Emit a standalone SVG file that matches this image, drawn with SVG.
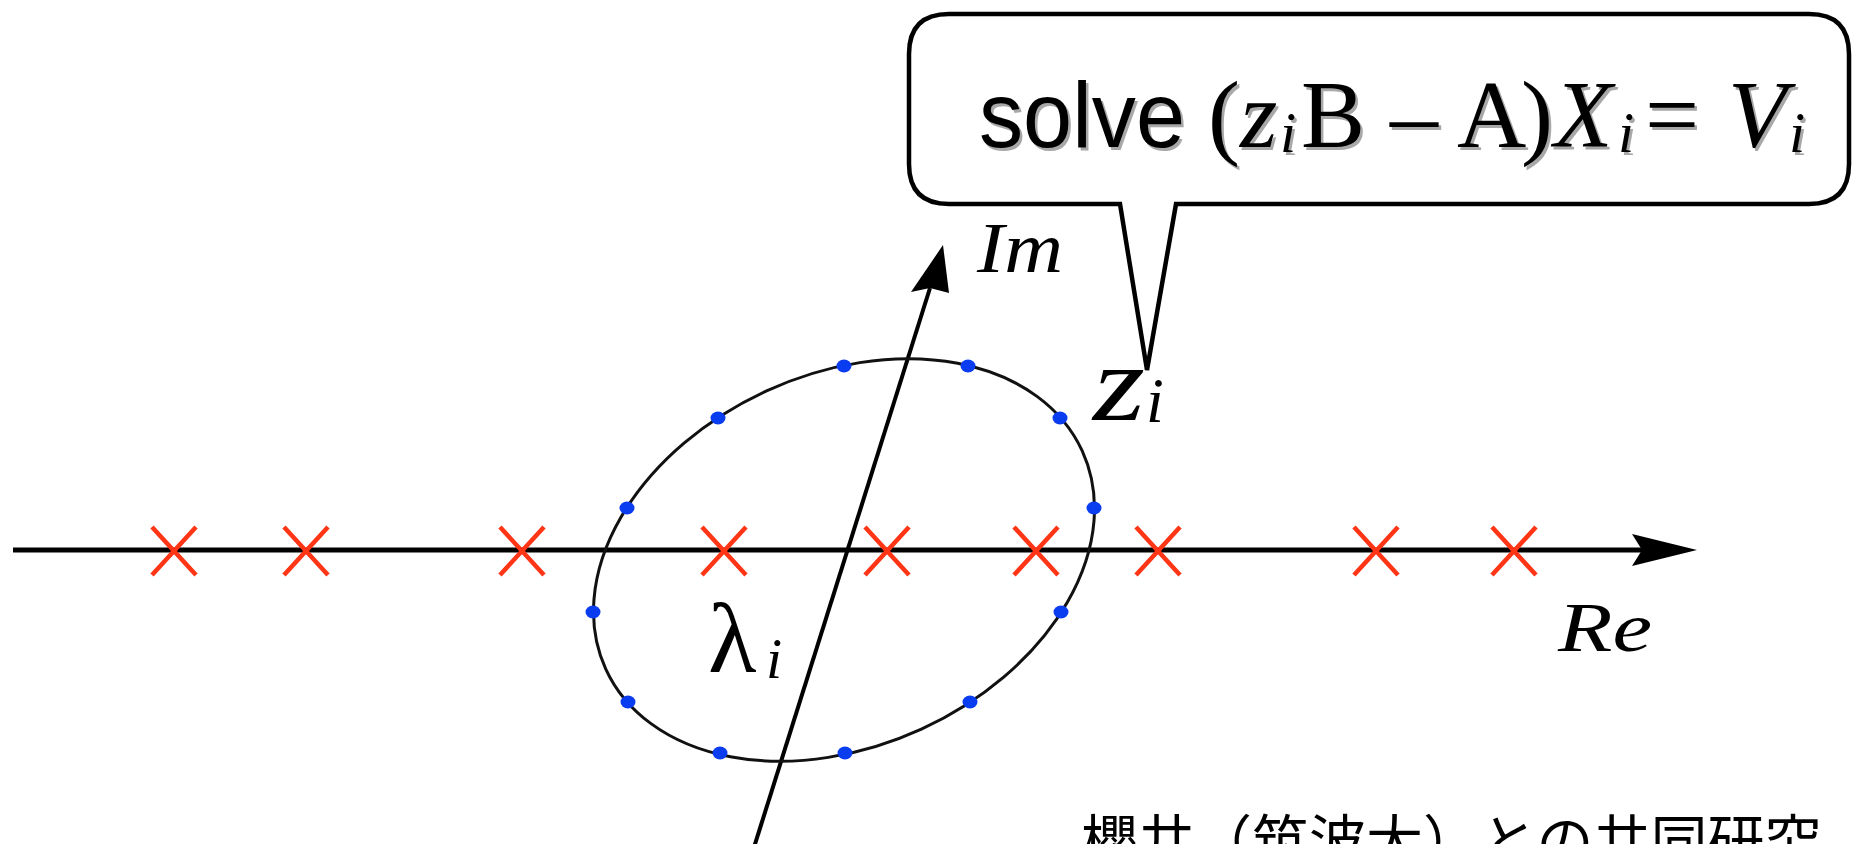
<svg xmlns="http://www.w3.org/2000/svg" xmlns:xlink="http://www.w3.org/1999/xlink" width="1853" height="844" viewBox="0 0 1853 844">
  <style>
    .axis { stroke: #000; fill: none; }
    .head { fill: #000; stroke: none; }
    .cross { stroke: #ff3516; stroke-width: 4.5; fill: none; }
    .dot { fill: #0a3cf0; }
    .serif { font-family: "Liberation Serif", "Times New Roman", serif; }
    .it { font-style: italic; }
    .sans { font-family: "Liberation Sans", Arial, sans-serif; }
    .jp { font-family: "Noto Sans CJK JP", "Noto Sans CJK SC", sans-serif; }
  </style>
  <defs>
    <g id="cross-shape">
      <path class="cross" d="M -22 -24 Q 0 0 22 24 M 22 -24 Q 0 0 -22 24"/>
    </g>
    <text id="formula-text" y="147">
      <tspan class="sans" x="979" font-size="92" textLength="206" lengthAdjust="spacingAndGlyphs">solve</tspan>
      <tspan class="serif" x="1208" font-size="96">(</tspan>
      <tspan class="serif it" x="1240" font-size="96">z</tspan>
      <tspan class="serif it" x="1280" y="152" font-size="58">i</tspan>
      <tspan class="serif" x="1301" y="147" font-size="96">B</tspan>
      <tspan class="serif" x="1390" font-size="96">–</tspan>
      <tspan class="serif" x="1457" font-size="96">A</tspan>
      <tspan class="serif" x="1521" font-size="96">)</tspan>
      <tspan class="serif it" x="1554" font-size="96">X</tspan>
      <tspan class="serif it" x="1618" y="152" font-size="58">i</tspan>
      <tspan class="serif" x="1645" y="147" font-size="96">=</tspan>
      <tspan class="serif it" x="1728" font-size="96">V</tspan>
      <tspan class="serif it" x="1789" y="152" font-size="58">i</tspan>
    </text>
  </defs>

  <rect x="0" y="0" width="1853" height="844" fill="#fff"/>

  <g id="connectors">
    <line id="re-axis" class="axis" x1="13" y1="550" x2="1642" y2="550" stroke-width="5"/>
    <path class="head" d="M 1697 550 L 1632 534 L 1642 550 L 1632 566 Z"/>
    <line id="im-axis" class="axis" x1="750" y1="860" x2="930" y2="288" stroke-width="4"/>
    <path class="head" d="M 943 245 L 949 293 L 930 288 L 911 292 Z"/>
  </g>

  <g id="contour">
    <ellipse cx="844" cy="560" rx="262" ry="186" transform="rotate(-24.6 844 560)" fill="none" stroke="#111" stroke-width="3"/>
  </g>

  <g id="eigenvalues">
    <use xlink:href="#cross-shape" x="174" y="551"/>
    <use xlink:href="#cross-shape" x="306" y="551"/>
    <use xlink:href="#cross-shape" x="522" y="551"/>
    <use xlink:href="#cross-shape" x="724" y="551"/>
    <use xlink:href="#cross-shape" x="887" y="551"/>
    <use xlink:href="#cross-shape" x="1036" y="551"/>
    <use xlink:href="#cross-shape" x="1158" y="551"/>
    <use xlink:href="#cross-shape" x="1376" y="551"/>
    <use xlink:href="#cross-shape" x="1514" y="551"/>
  </g>

  <g id="quadrature-points">
    <ellipse class="dot" cx="1094" cy="508" rx="7.5" ry="6.5"/>
    <ellipse class="dot" cx="1061" cy="612" rx="7.5" ry="6.5"/>
    <ellipse class="dot" cx="970" cy="702" rx="7.5" ry="6.5"/>
    <ellipse class="dot" cx="845" cy="753" rx="7.5" ry="6.5"/>
    <ellipse class="dot" cx="720" cy="753" rx="7.5" ry="6.5"/>
    <ellipse class="dot" cx="628" cy="702" rx="7.5" ry="6.5"/>
    <ellipse class="dot" cx="593" cy="612" rx="7.5" ry="6.5"/>
    <ellipse class="dot" cx="627" cy="508" rx="7.5" ry="6.5"/>
    <ellipse class="dot" cx="718" cy="418" rx="7.5" ry="6.5"/>
    <ellipse class="dot" cx="844" cy="366" rx="7.5" ry="6.5"/>
    <ellipse class="dot" cx="968" cy="366" rx="7.5" ry="6.5"/>
    <ellipse class="dot" cx="1060" cy="418" rx="7.5" ry="6.5"/>
  </g>

  <g id="labels" fill="#000">
    <text id="label-im" class="serif it" x="977" y="272" font-size="72" textLength="86" lengthAdjust="spacingAndGlyphs">Im</text>
    <text id="label-re" class="serif it" x="1558" y="651" font-size="70" textLength="94" lengthAdjust="spacingAndGlyphs">Re</text>
    <text id="label-lambda" class="serif" x="708" y="672" font-size="100">λ<tspan class="it" x="766" y="678" font-size="58">i</tspan></text>
    <text id="label-zi" class="serif it" x="1093" y="420" font-size="108"><tspan textLength="52" lengthAdjust="spacingAndGlyphs">z</tspan><tspan x="1146" y="422" font-size="64">i</tspan></text>
  </g>

  <g id="callout">
    <path d="M 949 14 H 1809 Q 1849 14 1849 54 V 164 Q 1849 204 1809 204 H 1176 L 1147 370 L 1120 204 H 949 Q 909 204 909 164 V 54 Q 909 14 949 14 Z" fill="#fff" stroke="#000" stroke-width="4.5" stroke-linejoin="miter"/>
    <use xlink:href="#formula-text" fill="#a8a8a8" transform="translate(2.5 2.5)"/>
    <use xlink:href="#formula-text" fill="#000"/>
  </g>

  <g id="note">
    <text class="jp" x="1081" y="862" font-size="57" fill="#000">櫻井（筑波大）との共同研究</text>
  </g>
</svg>
